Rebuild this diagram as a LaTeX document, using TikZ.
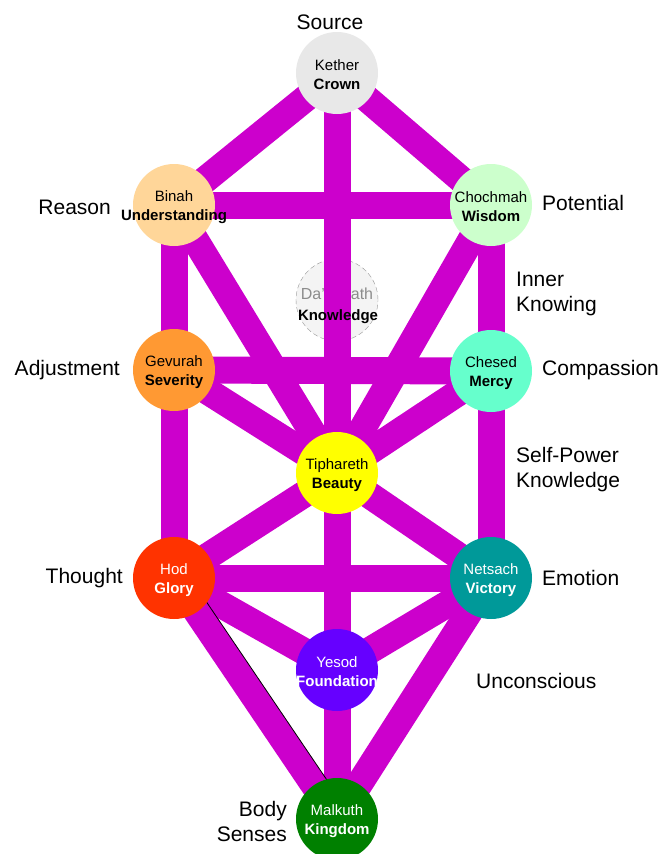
\documentclass[tikz,border=0pt]{standalone}
\usepackage{fontspec}
\setmainfont{Liberation Sans}
\usetikzlibrary{calc}
\definecolor{pathcol}{RGB}{204,0,204}
\definecolor{ketherfill}{RGB}{232,232,232}
\definecolor{binahfill}{RGB}{255,214,153}
\definecolor{chochmahfill}{RGB}{204,255,204}
\definecolor{daathfill}{RGB}{244,244,244}
\definecolor{daathline}{RGB}{150,150,150}
\definecolor{daathtext}{RGB}{140,140,140}
\definecolor{gevurahfill}{RGB}{255,153,51}
\definecolor{chesedfill}{RGB}{102,255,204}
\definecolor{tipharethfill}{RGB}{255,255,0}
\definecolor{hodfill}{RGB}{255,51,0}
\definecolor{netsachfill}{RGB}{0,153,153}
\definecolor{yesodfill}{RGB}{102,0,255}
\definecolor{malkuthfill}{RGB}{0,128,0}
\pgfdeclarelayer{paths}
\pgfsetlayers{paths,main}

\begin{document}
\begin{tikzpicture}[x=1pt,y=-1pt]
\tikzstyle{every node}+=[inner sep=0pt]
\tikzstyle{sephira}=[circle,minimum size=82pt]
\tikzstyle{seftext}=[align=center,yshift=-2pt,font=\fontsize{15}{19}\selectfont]
\tikzstyle{pillar}=[draw=pathcol,line width=27pt]
\tikzstyle{side}=[font=\fontsize{21}{25}\selectfont]
\useasboundingbox (0,0) rectangle (661,854);
% the ten sephiroth
\node[sephira,fill=ketherfill] (kether) at (337,73) {};
\node[seftext] (kether-t) at (kether) {Kether\\\textbf{Crown}};
\node[sephira,fill=binahfill] (binah) at (174,205) {};
\node[seftext] (binah-t) at (binah) {Binah\\\textbf{Understanding}};
\node[sephira,fill=chochmahfill] (chochmah) at (491,205) {};
\node[seftext] (chochmah-t) at (chochmah) {Chochmah\\\textbf{Wisdom}};
\node[sephira,fill=gevurahfill] (gevurah) at (174,370) {};
\node[seftext] (gevurah-t) at (gevurah) {Gevurah\\\textbf{Severity}};
\node[sephira,fill=chesedfill] (chesed) at (491,371) {};
\node[seftext] (chesed-t) at (chesed) {Chesed\\\textbf{Mercy}};
\node[sephira,fill=tipharethfill] (tiphareth) at (337,473) {};
\node[seftext] (tiphareth-t) at (tiphareth) {Tiphareth\\\textbf{Beauty}};
\node[sephira,fill=hodfill] (hod) at (174,578) {};
\node[seftext,text=white] (hod-t) at (hod) {Hod\\\textbf{Glory}};
\node[sephira,fill=netsachfill] (netsach) at (491,578) {};
\node[seftext,text=white] (netsach-t) at (netsach) {Netsach\\\textbf{Victory}};
\node[sephira,fill=yesodfill] (yesod) at (337,670) {};
\node[seftext,text=white] (yesod-t) at (yesod) {Yesod\\\textbf{Foundation}};
\node[sephira,fill=malkuthfill] (malkuth) at (337,819) {};
\node[seftext,text=white] (malkuth-t) at (malkuth) {Malkuth\\\textbf{Kingdom}};
\node[font=\fontsize{15}{19}\selectfont\bfseries] (daath-k) at (338,317) {Knowledge};
% the paths, with the hidden one under them
\begin{pgfonlayer}{paths}
\node[sephira,fill=daathfill,draw=daathline,dash pattern=on 5pt off 3pt] (daath) at (337,300) {};
\node[font=\fontsize{16}{19}\selectfont,text=daathtext] (daath-t) at (337,294) {Da'\hspace{26pt}ath};
\draw[pillar] (kether.center) -- (binah.center);
\draw[pillar] (kether.center) -- (chochmah.center);
\draw[pillar] (kether.center) -- (tiphareth.center);
\draw[pillar] (binah.center) -- (chochmah.center);
\draw[pillar] (binah.center) -- (gevurah.center);
\draw[pillar] (binah.center) -- (tiphareth.center);
\draw[pillar] (chochmah.center) -- (chesed.center);
\draw[pillar] (chochmah.center) -- (tiphareth.center);
\draw[pillar] (gevurah.center) -- (chesed.center);
\draw[pillar] (gevurah.center) -- (tiphareth.center);
\draw[pillar] (gevurah.center) -- (hod.center);
\draw[pillar] (chesed.center) -- (tiphareth.center);
\draw[pillar] (chesed.center) -- (netsach.center);
\draw[pillar] (tiphareth.center) -- (hod.center);
\draw[pillar] (tiphareth.center) -- (netsach.center);
\draw[pillar] (tiphareth.center) -- (yesod.center);
\draw[pillar] (hod.center) -- (netsach.center);
\draw[pillar] (hod.center) -- (yesod.center);
\draw[pillar] (hod.center) -- (malkuth.center);
\draw[pillar] (netsach.center) -- (yesod.center);
\draw[pillar] (netsach.center) -- (malkuth.center);
\draw[pillar] (yesod.center) -- (malkuth.center);
\draw[black,line width=0.8pt] ($(hod.center)!13.5pt!90:(malkuth.center)$) -- ($(malkuth.center)!13.5pt!-90:(hod.center)$);
\end{pgfonlayer}
% meanings
\node[side] (source) at (330,22) {Source};
\node[side,anchor=east] (reason) at (111,207) {Reason};
\node[side,anchor=west] (potential) at (542,203) {Potential};
\node[side,anchor=west,align=left] (inner) at (516,294) {Inner\\Knowing};
\node[side,anchor=east] (adjustment) at (120,370) {Adjustment};
\node[side,anchor=west] (compassion) at (542,370) {Compassion};
\node[side,anchor=west,align=left] (selfpower) at (516,470) {Self-Power\\Knowledge};
\node[side,anchor=east] (thought) at (123,578) {Thought};
\node[side,anchor=west] (emotion) at (542,578) {Emotion};
\node[side,anchor=west] (unconscious) at (476,681) {Unconscious};
\node[side,anchor=east,align=right] (body) at (287,821) {Body\\Senses};
\end{tikzpicture}
\end{document}
